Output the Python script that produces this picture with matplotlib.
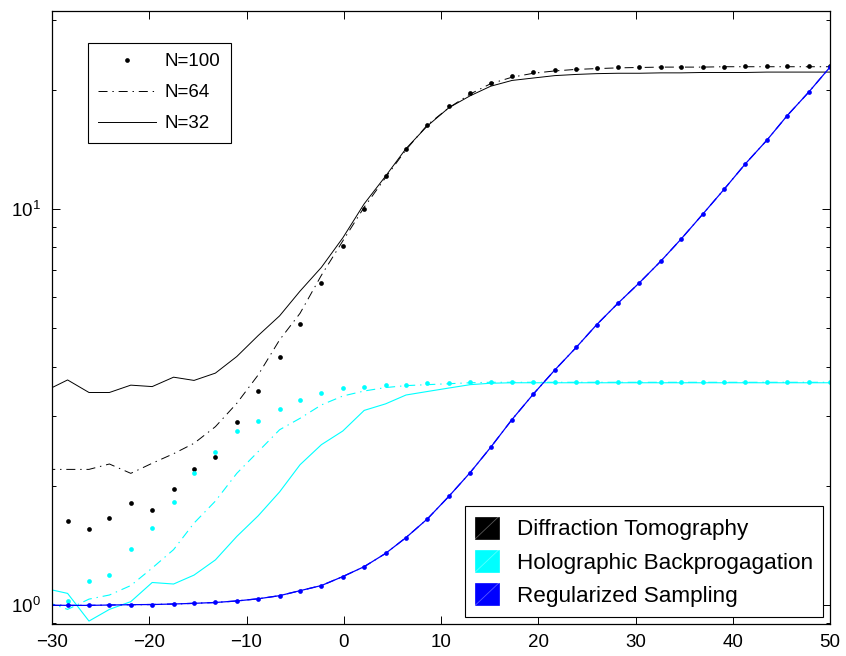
'''
Comparación de métodos de reconstrucción (escala logarítmica)
    - Diffraction Tomography, Holographic Backpropagation, Regularized Sampling
    - Tres resoluciones: N=100 (puntos), N=64 (raya-punto), N=32 (línea)
'''
#---------------------Librerias y modulos requeridos-------------------------
import numpy as np
import matplotlib
matplotlib.use("Agg")
import matplotlib.pyplot as plt
from matplotlib.patches import Patch, Rectangle
from matplotlib.lines import Line2D
from matplotlib.legend_handler import HandlerPatch
from matplotlib.ticker import LogLocator, NullFormatter, MultipleLocator

plt.rcParams['font.family'] = ['Liberation Sans', 'DejaVu Sans']
plt.rcParams['mathtext.fontset'] = 'custom'
plt.rcParams['mathtext.rm'] = 'Liberation Sans'
plt.rcParams['mathtext.default'] = 'regular'
plt.rcParams['lines.scale_dashes'] = False

#--------------------------Datos----------------------------------------------
x = [-30.6, -28.4, -26.2, -24.1, -21.9, -19.7, -17.5, -15.4, -13.2, -11.0,
     -8.8, -6.6, -4.5, -2.3, -0.1, 2.1, 4.3, 6.4, 8.6, 10.8,
     13.0, 15.1, 17.3, 19.5, 21.7, 23.9, 26.0, 28.2, 30.4, 32.6,
     34.7, 36.9, 39.1, 41.3, 43.5, 45.6, 47.8, 50.0]

# Diffraction Tomography (negro)
dt_100 = [1.70, 1.63, 1.56, 1.66, 1.81, 1.74, 1.96, 2.21, 2.36, 2.89,
          3.46, 4.23, 5.11, 6.51, 8.08, 10.0, 12.1, 14.2, 16.3, 18.2,
          19.6, 20.8, 21.6, 22.1, 22.4, 22.6, 22.7, 22.8, 22.8, 22.8,
          22.85, 22.85, 22.85, 22.9, 22.9, 22.9, 22.9, 22.9]
dt_64 = [2.20, 2.20, 2.20, 2.27, 2.15, 2.28, 2.41, 2.56, 2.82, 3.23,
         3.81, 4.67, 5.45, 6.80, 8.30, 10.1, 12.0, 14.1, 16.3, 18.0,
         19.5, 20.7, 21.5, 22.0, 22.3, 22.5, 22.6, 22.7, 22.75, 22.8,
         22.8, 22.8, 22.85, 22.85, 22.85, 22.85, 22.85, 22.85]
dt_32 = [3.48, 3.70, 3.44, 3.44, 3.59, 3.56, 3.76, 3.69, 3.85, 4.24,
         4.79, 5.37, 6.20, 7.12, 8.45, 10.3, 12.1, 14.2, 16.2, 18.0,
         19.3, 20.4, 21.1, 21.4, 21.7, 21.85, 21.95, 22.0, 22.0, 22.05,
         22.05, 22.1, 22.1, 22.1, 22.15, 22.15, 22.15, 22.15]

# Holographic Backprogagation (cian)
hb_100 = [1.00, 1.025, 1.15, 1.19, 1.385, 1.565, 1.82, 2.16, 2.43, 2.75,
          2.92, 3.13, 3.30, 3.43, 3.53, 3.55, 3.59, 3.60, 3.63, 3.63,
          3.65, 3.65, 3.65, 3.65, 3.65, 3.65, 3.65, 3.65, 3.65, 3.65,
          3.65, 3.65, 3.65, 3.65, 3.65, 3.65, 3.65, 3.65]
hb_64 = [1.02, 0.975, 1.035, 1.06, 1.12, 1.24, 1.38, 1.61, 1.83, 2.15,
         2.44, 2.77, 2.96, 3.20, 3.37, 3.47, 3.54, 3.58, 3.60, 3.62,
         3.64, 3.65, 3.65, 3.65, 3.65, 3.65, 3.65, 3.65, 3.65, 3.65,
         3.65, 3.65, 3.65, 3.65, 3.65, 3.65, 3.65, 3.65]
hb_32 = [1.10, 1.07, 0.911, 0.975, 1.02, 1.14, 1.13, 1.19, 1.30, 1.49,
         1.68, 1.93, 2.26, 2.54, 2.75, 3.10, 3.22, 3.39, 3.46, 3.53,
         3.60, 3.63, 3.64, 3.64, 3.64, 3.64, 3.64, 3.64, 3.64, 3.64,
         3.64, 3.64, 3.64, 3.64, 3.64, 3.64, 3.64, 3.64]

# Regularized Sampling (azul): las tres resoluciones coinciden
rs = [1.00, 0.998, 0.998, 1.00, 1.002, 1.003, 1.006, 1.01, 1.015, 1.024,
      1.037, 1.056, 1.087, 1.12, 1.18, 1.25, 1.35, 1.48, 1.65, 1.88,
      2.16, 2.50, 2.94, 3.41, 3.92, 4.47, 5.10, 5.78, 6.51, 7.38,
      8.40, 9.69, 11.2, 13.0, 14.9, 17.2, 19.7, 22.8]

etiquetas_n = ["N=100", "N=64", "N=32"]
metodos = ["Diffraction Tomography", "Holographic Backprogagation", "Regularized Sampling"]
colores = ["#000000", "#00ffff", "#0000ff"]

#---------------Cuadro de leyenda con la diagonal tipo MATLAB------------------
class HandlerCuadro(HandlerPatch):
    def create_artists(self, legend, orig_handle, xdescent, ydescent,
                       width, height, fontsize, trans):
        cuadro = Rectangle((-xdescent, -ydescent), width, height,
                           facecolor=orig_handle.get_facecolor(),
                           edgecolor=orig_handle.get_facecolor(), lw=0.5,
                           transform=trans)
        diag = Line2D([-xdescent, -xdescent + width], [-ydescent, -ydescent + height],
                      color="white", alpha=0.35, lw=0.6, transform=trans)
        return [cuadro, diag]

#------------------------------Figura-------------------------------------
fig = plt.figure(figsize=(8.46, 6.56), dpi=100)
ax = fig.add_axes([0.0615, 0.0483, 0.9196, 0.935])

rayapunto = (0, (6.5, 3.5, 1.0, 3.5))
series = [(dt_100, dt_64, dt_32, colores[0], 0.7),
          (hb_100, hb_64, hb_32, colores[1], 0.8),
          (rs, rs, rs, colores[2], 0.9)]
lineas_n = []
for s100, s64, s32, col, lw in series:
    a, = ax.plot(x, s100, 'o', color=col, ms=3.4, mec='none')
    b, = ax.plot(x, s64, color=col, lw=lw, linestyle=rayapunto)
    c, = ax.plot(x, s32, color=col, lw=lw)
    if not lineas_n:
        lineas_n = [a, b, c]

ax.set_yscale('log')
ax.set_xlim(-30, 50)
ax.set_ylim(0.894, 31.6)
ax.xaxis.set_major_locator(MultipleLocator(10))
ax.yaxis.set_major_locator(LogLocator(base=10))
ax.yaxis.set_minor_locator(LogLocator(base=10, subs=np.arange(2, 10)))
ax.yaxis.set_minor_formatter(NullFormatter())
ax.tick_params(which='both', direction='in', top=True, right=True, labelsize=13.5)
ax.tick_params(which='major', length=5.5, width=0.7)
ax.tick_params(which='minor', length=3, width=0.7)
ax.tick_params(axis='y', pad=8)
ax.tick_params(axis='x', pad=7)
for sp in ax.spines.values():
    sp.set_linewidth(0.9)

# Leyenda de resoluciones (arriba a la izquierda)
leg1 = ax.legend(lineas_n, etiquetas_n, loc='upper left', bbox_to_anchor=(0.0463, 0.948),
                 borderaxespad=0, fancybox=False, framealpha=1, edgecolor='k',
                 fontsize=13.5, handlelength=3.1, handletextpad=0.45,
                 labelspacing=0.74, borderpad=0.55, numpoints=1)
leg1.get_frame().set_linewidth(0.8)
ax.add_artist(leg1)

# Leyenda de métodos (abajo a la derecha)
parches = [Patch(facecolor=c) for c in colores]
leg2 = ax.legend(parches, metodos, loc='lower right', bbox_to_anchor=(0.991, 0.012),
                 borderaxespad=0, fancybox=False, framealpha=1, edgecolor='k',
                 fontsize=16.2, handlelength=1.05, handleheight=1.15,
                 handletextpad=0.8, labelspacing=0.42, borderpad=0.45,
                 handler_map={Patch: HandlerCuadro()})
leg2.get_frame().set_linewidth(0.8)

fig.savefig("out.png", dpi=100)
